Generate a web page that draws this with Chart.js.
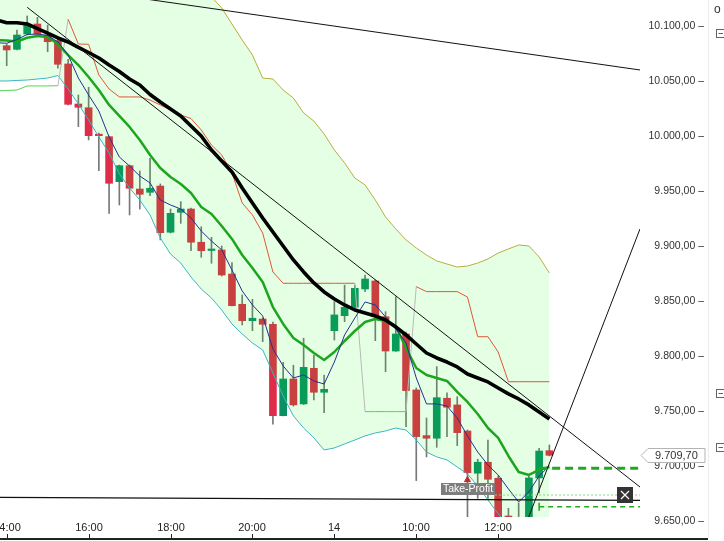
<!DOCTYPE html>
<html>
<head>
<meta charset="utf-8">
<script src="https://cdn.jsdelivr.net/npm/chart.js@4.4.1/dist/chart.umd.min.js"></script>
<style>
  html, body { margin: 0; padding: 0; background: #fff; }
  canvas { display: block; }
</style>
</head>
<body>
<canvas id="chart" width="724" height="541"></canvas>
<script>
// 15 min candles, bar 0 = 14:00 (13th), bar 32 = 08:00 (14th), last bar = 13:15
const open = [10082.1, 10078.8, 10092.7, 10101.8, 10091.8, 10086.6, 10065.5, 10029.1, 10025.7, 10000.9,
  9999.4, 9958.5, 9973.0, 9951.8, 9948.8, 9954.5, 9912.5, 9930.6, 9933.6, 9903.4,
  9895.9, 9896.4, 9874.5, 9847.0, 9832.1, 9833.6, 9828.8, 9745.7, 9779.1, 9756.4,
  9788.8, 9767.0, 9823.0, 9836.6, 9844.3, 9860.9, 9868.2, 9835.7, 9804.5, 9820.0,
  9769.1, 9727.6, 9725.2, 9761.6, 9755.5, 9731.8, 9693.4, 9703.4, 9688.8, 9654.5,
  9649.1, 9634.5, 9689.1, 9713.9]
const high = [10083.6, 10096.4, 10109.1, 10107.9, 10100.9, 10088.2, 10069.7, 10037.3, 10044.3, 10002.7,
  10000.0, 9973.6, 9973.6, 9968.2, 9979.7, 9956.4, 9933.6, 9940.3, 9934.5, 9917.5,
  9907.9, 9900.0, 9884.8, 9855.5, 9851.5, 9834.5, 9830.9, 9794.3, 9791.6, 9816.1,
  9800.9, 9782.7, 9849.4, 9864.5, 9864.5, 9873.6, 9869.1, 9840.3, 9853.9, 9821.8,
  9770.9, 9743.6, 9790.3, 9766.6, 9763.0, 9732.7, 9706.1, 9723.6, 9690.9, 9661.5,
  9666.4, 9690.9, 9716.1, 9719.1]
const low = [10063.9, 10078.2, 10091.8, 10091.8, 10076.6, 10061.6, 10028.2, 10008.5, 9996.4, 9968.5,
  9929.7, 9937.3, 9928.2, 9933.6, 9945.7, 9905.5, 9911.8, 9920.6, 9895.7, 9889.7,
  9884.3, 9872.7, 9845.5, 9828.2, 9823.0, 9813.0, 9737.9, 9745.5, 9754.5, 9755.9,
  9760.0, 9748.5, 9814.5, 9831.2, 9841.8, 9858.5, 9813.9, 9785.7, 9804.1, 9735.7,
  9686.7, 9708.2, 9717.0, 9726.6, 9718.5, 9650.9, 9670.6, 9670.6, 9628.2, 9641.8,
  9623.6, 9628.2, 9675.5, 9709.1]
const close = [10078.2, 10091.8, 10100.9, 10092.7, 10085.7, 10065.2, 10028.8, 10026.1, 10000.3, 10000.3,
  9957.0, 9973.0, 9952.5, 9947.0, 9952.5, 9912.1, 9929.7, 9933.6, 9903.4, 9895.7,
  9896.4, 9873.6, 9845.7, 9832.1, 9834.3, 9828.8, 9745.7, 9779.1, 9755.5, 9789.7,
  9767.0, 9769.7, 9837.3, 9844.3, 9861.5, 9870.0, 9835.7, 9804.5, 9820.0, 9768.5,
  9726.7, 9725.2, 9762.1, 9753.4, 9730.3, 9693.9, 9703.4, 9687.9, 9641.8, 9651.8,
  9632.7, 9689.1, 9713.6, 9709.7]

// indicator values start one bar earlier (bar -1 = 13:45)
const slowMa = [10105.5, 10103.0, 10103.0, 10101.8, 10097.7, 10093.6, 10089.1, 10085.5, 10080.5, 10075.9, 10070.9,
  10064.5, 10058.6, 10051.8, 10046.4, 10037.7, 10030.9, 10024.5, 10018.2, 10009.1, 10000.0,
  9987.3, 9977.3, 9967.3, 9952.7, 9939.1, 9925.5, 9912.7, 9900.0, 9887.3, 9876.4,
  9866.4, 9858.2, 9851.8, 9846.4, 9841.8, 9839.1, 9836.4, 9832.7, 9826.4, 9819.1,
  9810.9, 9802.7, 9798.2, 9794.5, 9790.0, 9783.6, 9780.0, 9776.4, 9770.9, 9765.5,
  9760.9, 9755.5, 9749.1, 9742.7]
const midMa = [10087.3, 10086.8, 10085.9, 10089.3, 10090.9, 10090.0, 10083.6, 10073.6, 10064.5, 10053.6, 10041.8,
  10028.2, 10018.2, 10008.2, 9996.4, 9982.7, 9970.9, 9962.7, 9956.4, 9948.2, 9935.5,
  9929.1, 9918.2, 9906.4, 9891.8, 9880.0, 9867.3, 9844.5, 9829.1, 9816.4, 9810.0,
  9802.7, 9796.4, 9803.6, 9813.6, 9822.7, 9830.9, 9833.6, 9831.8, 9827.3, 9807.3,
  9789.1, 9782.7, 9780.0, 9777.3, 9767.3, 9758.2, 9747.3, 9734.5, 9725.5, 9709.1,
  9694.5, 9691.8, 9696.4, 9699.1]
const fastMa = [10084.8, 10084.3, 10087.7, 10092.3, 10092.7, 10091.4, 10085.5, 10073.6, 10052.7, 10037.3, 10022.7,
  9999.1, 9980.9, 9972.7, 9963.6, 9957.3, 9941.8, 9937.3, 9933.6, 9925.5, 9913.6,
  9904.5, 9896.4, 9878.2, 9859.1, 9846.4, 9836.4, 9806.4, 9790.9, 9780.0, 9782.7,
  9777.3, 9774.5, 9794.5, 9819.1, 9834.5, 9849.1, 9846.4, 9835.5, 9824.5, 9811.8,
  9780.0, 9756.4, 9756.4, 9754.5, 9743.6, 9727.3, 9712.7, 9700.9, 9691.8, 9679.1,
  9667.3, 9676.4, 9690.9, 9700.0]
const bandLow = [10050.0, 10050.0, 10050.5, 10050.9, 10051.8, 10052.7, 10055.0, 10042.7, 10029.1, 10014.5, 9999.1,
  9984.5, 9965.5, 9952.7, 9941.8, 9928.2, 9907.3, 9892.7, 9884.5, 9871.8, 9860.9,
  9852.7, 9841.8, 9829.1, 9820.0, 9811.8, 9805.5, 9784.5, 9763.6, 9745.5, 9734.5,
  9725.5, 9714.5, 9716.4, 9720.0, 9723.6, 9727.3, 9730.0, 9731.8, 9734.5, 9732.7,
  9723.6, 9712.7, 9708.2, 9705.5, 9699.1, 9692.7, 9681.8, 9669.1, 9656.4, 9646.4,
  9640.0, 9637.3, 9637.3, 9640.0]
const bandHigh = [10169.1, 10169.1, 10169.1, 10169.1, 10169.1, 10169.1, 10169.1, 10169.1, 10169.1, 10169.1, 10169.1,
  10169.1, 10167.3, 10165.5, 10161.8, 10158.2, 10153.6, 10149.1, 10143.6, 10138.2, 10132.7,
  10126.4, 10116.4, 10101.8, 10087.3, 10073.6, 10052.7, 10051.8, 10041.8, 10034.5, 10020.9,
  10013.6, 10001.8, 9987.3, 9975.5, 9961.8, 9955.5, 9941.8, 9926.4, 9915.5, 9905.5,
  9898.2, 9891.8, 9886.4, 9883.6, 9880.9, 9881.8, 9884.5, 9888.2, 9893.6, 9897.3,
  9900.9, 9900.0, 9890.0, 9875.5]
const trailStop = [10040.9, 10041.4, 10041.8, 10045.5, 10045.5, 10045.5, 10045.7, 10106.1, 10083.6, 10083.4, 10055.5,
  10042.7, 10035.5, 10035.5, 10035.5, 10032.7, 10028.2, 10023.6, 10019.1, 10015.9, 10005.5,
  9991.8, 9982.7, 9966.4, 9939.1, 9928.2, 9911.8, 9876.4, 9866.1, 9866.1, 9866.1,
  9866.1, 9866.1, 9866.1, 9866.1, 9866.1, 9749.4, 9749.4, 9749.4, 9749.4, 9749.4,
  9863.0, 9858.5, 9858.5, 9858.5, 9858.5, 9853.6, 9817.5, 9817.5, 9803.6, 9776.6,
  9776.6, 9776.6, 9776.6, 9776.6]

// drawn lines: [bar, price] end points
const trendDown = [[2, 10117.0], [61.85, 9680.9]]
const trendTop = [[13, 10125.3], [61.85, 10060.0]]
const trendUp = [[50.3, 9637.3], [61.85, 9915.5]]
const supportLine = [[-0.66, 9671.4], [61.85, 9668.8]]

// open order lines
const entryLevel = 9697.9
const stopLevel = 9663.0
const tpLevel = 9673.6
const orderFrom = 52
const tpFrom = 47.7
const signalBar = 45
const signalPrice = 9687.3

const priceTicks = [9650, 9700, 9750, 9800, 9850, 9900, 9950, 10000, 10050, 10100]
const xTickBar = [0, 8, 16, 24, 32, 40, 48]
const xTickText = ['14:00', '16:00', '18:00', '20:00', '14', '10:00', '12:00']

const RED = '#df2c48'
const GREEN = '#0a9162'
const FONT = '"Liberation Sans", Arial, sans-serif'

function de (v) {
  const s = v.toFixed(2).split('.')
  return s[0].replace(/\B(?=(\d{3})+(?!\d))/g, '.') + ',' + s[1]
}

const bars = open.map((_, i) => i)
const ind = arr => arr.map((v, k) => ({ x: k - 1, y: v }))
const seg = arr => arr.map(p => ({ x: p[0], y: p[1] }))

function stopSide (k) {
  const i = Math.max(0, k - 1)
  return trailStop[k] < close[i] ? 'long' : 'short'
}

const lineBase = { type: 'line', pointRadius: 0, pointHoverRadius: 0, tension: 0, borderWidth: 1, fill: false, clip: 0 }

const overlay = {
  id: 'overlay',
  afterDraw (chart) {
    const { ctx, chartArea: a, scales: { x, y } } = chart
    ctx.save()

    // time axis
    ctx.font = '11px ' + FONT
    ctx.fillStyle = '#222'
    ctx.textAlign = 'center'
    ctx.textBaseline = 'middle'
    xTickBar.forEach((b, k) => {
      const px = Math.round(x.getPixelForValue(b))
      ctx.fillText(xTickText[k], px, 528)
      ctx.fillRect(px, 534, 1, 5)
    })
    ctx.fillRect(0, 538, 708, 2)

    // take profit tag and close button
    const tpY = Math.round(y.getPixelForValue(tpLevel))
    const tpX = Math.round(x.getPixelForValue(tpFrom))
    ctx.fillStyle = '#7d7d7d'
    ctx.fillRect(tpX - 54, tpY - 12, 54, 12)
    ctx.fillStyle = '#fff'
    ctx.font = '10.5px ' + FONT
    ctx.fillText('Take-Profit', tpX - 27, tpY - 6)

    const bx = a.right - 23
    ctx.fillStyle = '#333'
    ctx.fillRect(bx, tpY - 8, 16, 16)
    ctx.strokeStyle = '#fff'
    ctx.lineWidth = 1.2
    ctx.beginPath()
    ctx.moveTo(bx + 4, tpY - 4); ctx.lineTo(bx + 12, tpY + 4)
    ctx.moveTo(bx + 12, tpY - 4); ctx.lineTo(bx + 4, tpY + 4)
    ctx.stroke()

    // last price tag
    const last = close[close.length - 1]
    const py = Math.round(y.getPixelForValue(last)) + 0.5
    ctx.beginPath()
    ctx.moveTo(a.right + 1, py)
    ctx.lineTo(a.right + 8, py - 7)
    ctx.lineTo(a.right + 65, py - 7)
    ctx.lineTo(a.right + 65, py + 7)
    ctx.lineTo(a.right + 8, py + 7)
    ctx.closePath()
    ctx.fillStyle = '#fff'
    ctx.fill()
    ctx.strokeStyle = '#b4b4b4'
    ctx.lineWidth = 1
    ctx.stroke()
    ctx.fillStyle = '#333'
    ctx.font = '11px ' + FONT
    ctx.textAlign = 'left'
    ctx.fillText(de(last), a.right + 15, py)

    // side panel
    ctx.fillStyle = '#ececec'
    ctx.fillRect(708, 0, 1, 538)
    ctx.fillStyle = '#333'
    ctx.font = '12px ' + FONT
    ctx.fillText('o', 714, 10)
    ctx.strokeStyle = '#666'
    ;[29, 389, 443].forEach(iy => {
      ctx.strokeRect(716.5, iy + 0.5, 8, 8)
      ctx.beginPath()
      ctx.moveTo(718.5, iy + 4.5); ctx.lineTo(723, iy + 4.5)
      ctx.stroke()
    })
    ctx.restore()
  }
}

new Chart(document.getElementById('chart'), {
  type: 'line',
  data: {
    datasets: [
      { type: 'bar', order: 20, clip: 0, grouped: false, barThickness: 1,
        data: bars.map(i => ({ x: i, y: [low[i], high[i]] })),
        backgroundColor: '#787878' },
      { type: 'bar', order: 19, clip: 0, grouped: false, barThickness: 7, minBarLength: 1.5,
        data: bars.map(i => ({ x: i, y: [open[i], close[i]] })),
        backgroundColor: bars.map(i => close[i] >= open[i] ? GREEN : RED) },
      { ...lineBase, order: 18, data: ind(bandHigh), borderColor: '#b7ae3e',
        fill: '+1', backgroundColor: 'rgba(0,255,0,0.1)' },
      { ...lineBase, order: 17, data: ind(bandLow), borderColor: '#3db4c7' },
      { ...lineBase, order: 16, data: ind(trailStop),
        segment: {
          borderColor: c => {
            const s0 = stopSide(c.p0DataIndex)
            const s1 = stopSide(c.p1DataIndex)
            if (s0 !== s1) return '#b9b9b9'
            return s0 === 'long' ? '#4fd64f' : '#de5636'
          }
        } },
      { ...lineBase, order: 15, data: ind(midMa), borderColor: '#1ea51e', borderWidth: 2.5, borderJoinStyle: 'round' },
      { ...lineBase, order: 14, data: ind(fastMa), borderColor: '#22318f' },
      { ...lineBase, order: 13, data: ind(slowMa), borderColor: '#000', borderWidth: 3.6, borderJoinStyle: 'round' },
      { ...lineBase, order: 12, data: seg(trendDown), borderColor: '#111' },
      { ...lineBase, order: 12, data: seg(trendTop), borderColor: '#111' },
      { ...lineBase, order: 12, data: seg(trendUp), borderColor: '#111' },
      { ...lineBase, order: 12, data: seg(supportLine), borderColor: '#111', borderWidth: 1.2 },
      { ...lineBase, order: 11, data: [{ x: orderFrom, y: entryLevel }, { x: 61.85, y: entryLevel }],
        borderColor: '#22a722', borderWidth: 3, borderDash: [8, 5] },
      { ...lineBase, order: 11, data: [{ x: orderFrom, y: stopLevel }, { x: 61.85, y: stopLevel }],
        borderColor: '#22a722', borderWidth: 1.5, borderDash: [5, 4],
        pointRadius: [4, 0], pointStyle: 'line', rotation: 90, pointBorderColor: '#22a722', pointBorderWidth: 1.5 },
      { ...lineBase, order: 11, data: [{ x: tpFrom, y: tpLevel }, { x: 61.85, y: tpLevel }],
        borderColor: '#7fd87f', borderDash: [2, 2] },
      { type: 'scatter', order: 10, clip: 0, data: [{ x: signalBar, y: signalPrice }],
        pointStyle: 'triangle', pointRadius: 3.5, pointHoverRadius: 3.5,
        backgroundColor: '#c42a2a', borderColor: '#c42a2a' }
    ]
  },
  options: {
    responsive: false,
    animation: false,
    events: [],
    layout: { autoPadding: false, padding: { left: 0, right: 20, top: 0, bottom: 0 } },
    plugins: { legend: { display: false }, tooltip: { enabled: false } },
    scales: {
      x: {
        type: 'linear', min: -0.654, max: 61.85, offset: false,
        grid: { display: false, drawTicks: false }, border: { display: false },
        ticks: { display: false },
        afterFit: s => { s.height = 24 }
      },
      y: {
        type: 'linear', position: 'right', min: 9653.6, max: 10123.64,
        grid: { display: false, drawTicks: false }, border: { display: false },
        afterBuildTicks: s => { s.ticks = priceTicks.map(v => ({ value: v })) },
        ticks: {
          autoSkip: false, crossAlign: 'far', padding: 8, color: '#333',
          font: { family: FONT, size: 10.5 },
          callback: v => de(v) + ' –'
        },
        afterFit: s => { s.width = 64; s.paddingTop = 0; s.paddingBottom = 0 }
      }
    }
  },
  plugins: [overlay]
})
</script>
</body>
</html>
